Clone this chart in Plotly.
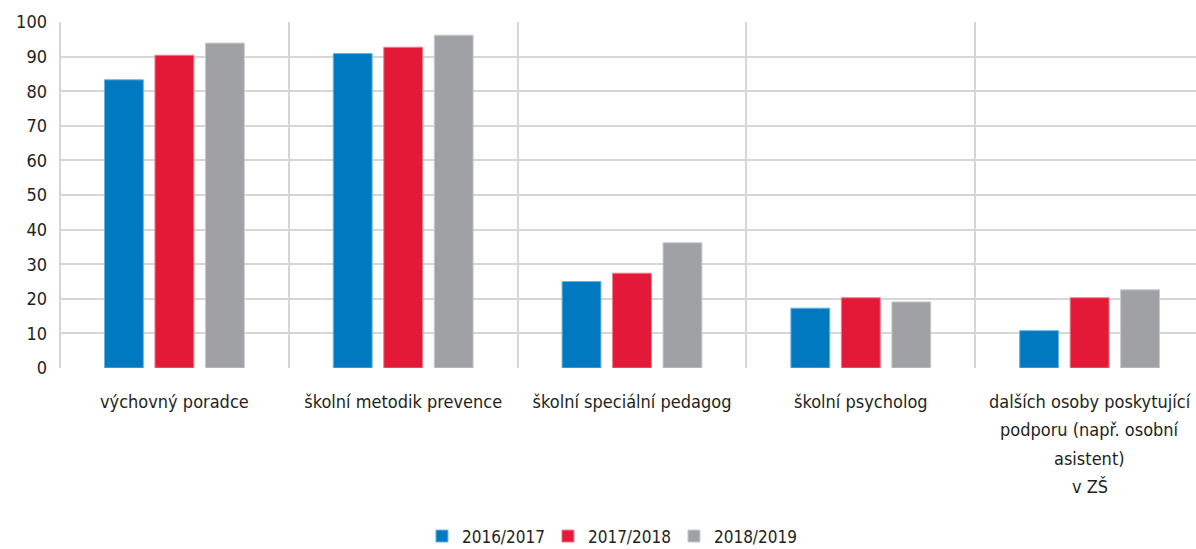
import plotly.graph_objects as go

categories = [
    "výchovný poradce",
    "školní metodik prevence",
    "školní speciální pedagog",
    "školní psycholog",
    "dalších osoby poskytující podporu (např. osobní asistent) v ZŠ",
]
label_lines = [
    ["výchovný poradce"],
    ["školní metodik prevence"],
    ["školní speciální pedagog"],
    ["školní psycholog"],
    ["dalších osoby poskytující", "podporu (např. osobní", "asistent)", "v ZŠ"],
]
series_names = ["2016/2017", "2017/2018", "2018/2019"]
values_2016 = [83.3, 90.9, 25.0, 17.3, 10.8]
values_2017 = [90.4, 92.7, 27.4, 20.3, 20.3]
values_2018 = [93.9, 96.2, 36.2, 19.1, 22.6]
y_ticks = [0, 10, 20, 30, 40, 50, 60, 70, 80, 90, 100]

colors = ["#0079C1", "#E41937", "#A0A1A5"]
edge_colors = ["#6FB3DE", "#F07C8C", "#C9CACC"]

FONT = "DejaVu Sans Condensed, Liberation Sans Narrow, sans-serif"
TEXT = "#231F20"

fig = go.Figure()
for name, vals, c, ec in zip(series_names, [values_2016, values_2017, values_2018], colors, edge_colors):
    fig.add_trace(go.Bar(
        x=categories, y=vals, name=name,
        marker=dict(color=c, line=dict(color=ec, width=1)),
    ))

plot_h = 549 - 22 - 181
line_gap = 28.5
for cat, lines in zip(categories, label_lines):
    for i, line in enumerate(lines[1:], start=1):
        fig.add_annotation(
            x=cat, xref="x", yref="paper",
            y=-(33 + i * line_gap) / plot_h, yanchor="middle",
            text=line, showarrow=False, font=dict(size=18, color=TEXT, family=FONT),
        )

fig.update_layout(
    width=1196, height=549,
    margin=dict(l=60, r=0, t=22, b=181, autoexpand=False),
    paper_bgcolor="white", plot_bgcolor="white",
    barmode="group", bargap=0.338, bargroupgap=0.23,
    font=dict(family=FONT, size=18, color=TEXT),
    showlegend=True,
    legend=dict(orientation="h", x=0.485, xanchor="center", y=-0.487, yanchor="middle",
                font=dict(size=17), traceorder="normal", itemclick=False,
                entrywidth=81, entrywidthmode="pixels"),
    xaxis=dict(
        type="category", categoryorder="array", categoryarray=categories,
        tickvals=categories, ticktext=[l[0] for l in label_lines],
        range=[-0.5, 4.465], tickson="boundaries", showgrid=True, automargin=False,
        gridcolor="#D6D6D6", gridwidth=2, ticks="", zeroline=False,
        showline=False, ticklabelstandoff=21,
    ),
    yaxis=dict(
        range=[0, 100], tickvals=y_ticks, showgrid=True, gridcolor="#D6D6D6",
        gridwidth=2, zeroline=False, showline=False, ticks="", automargin=False,
        ticklabelstandoff=12,
    ),
)
fig.add_shape(type="line", xref="paper", yref="paper", x0=0, x1=0, y0=0, y1=1,
              line=dict(color="#D6D6D6", width=2), layer="below")

fig.write_html("out.html", config={"displayModeBar": False},
               post_script="document.body.style.margin='0';")
